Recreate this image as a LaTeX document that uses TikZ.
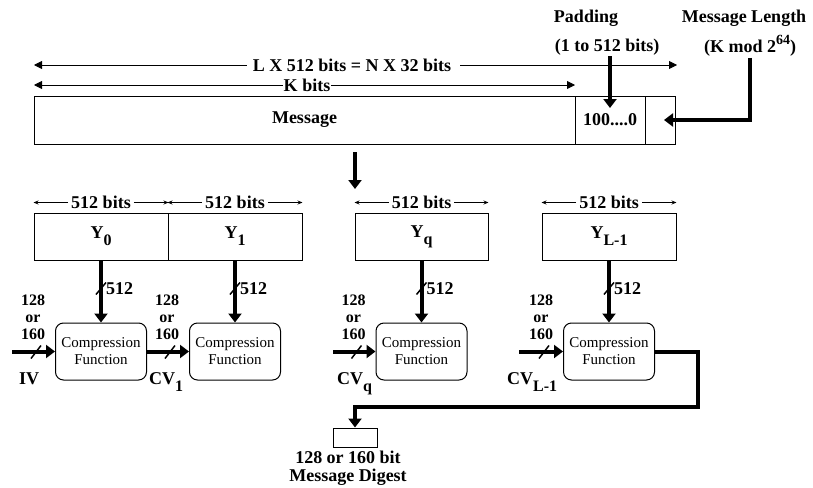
\documentclass[tikz,border=0pt]{standalone}
\usepackage{fontspec}
\setmainfont{Liberation Serif}
\usepackage{tikz}
\usetikzlibrary{arrows.meta,positioning,calc}
\newcommand{\lowtxt}[1]{\raisebox{-0.4em}{\fontsize{16}{16}\selectfont #1}}
\newcommand{\hightxt}[1]{\raisebox{0.45em}{\fontsize{14}{14}\selectfont #1}}

\begin{document}
\begin{tikzpicture}[x=1pt, y=-1pt,
  lbl/.style={font=\fontsize{18}{16}\selectfont\bfseries, inner sep=1pt, align=center},
  stk/.style={font=\fontsize{16}{17}\selectfont\bfseries, inner sep=0pt, align=center},
  blk/.style={draw, line width=1pt, minimum height=47pt, inner sep=0pt, font=\fontsize{18}{18}\selectfont\bfseries},
  cf/.style={draw, line width=1pt, rounded corners=8pt, minimum width=91pt, minimum height=57pt, align=center, inner sep=0pt, font=\fontsize{15}{17}\selectfont},
  arr/.style={-{Triangle[width=13pt,length=9pt]}, line width=4pt},
  dim/.style={-{Triangle[width=8pt,length=8pt]}, line width=0.9pt},
  seg/.style={-{Stealth[width=4pt,length=5pt]}, line width=0.9pt},
  tick/.style={line width=1.5pt}
]
\useasboundingbox (0,0) rectangle (813,487);

% message with padding and length
\node[blk, minimum width=541pt, minimum height=48pt] (msg) at (304.5,120) {Message};
\node[blk, minimum width=70pt, minimum height=48pt] (pad) at (610,120) {100....0};
\node[blk, minimum width=30pt, minimum height=48pt] (len) at (660,120) {};

\node[lbl] (padname) at (586,18) {Padding};
\node[lbl] (padsize) at (607,47) {(1 to 512 bits)};
\node[lbl] (lenname) at (744,18) {Message Length};
\node[lbl] (lensize) at (750,46) {(K mod 2\hightxt{64})};
\coordinate (padtip) at (610,108);
\coordinate (lentip) at (664,120);
\draw[arr] (padsize.south -| padtip) -- (padtip);
\draw[arr] (lensize.south) |- (lentip);

% overall lengths
\node[lbl] (ltot) at (352,65) {L X 512 bits = N X 32 bits};
\coordinate (ltotL) at (34,65);
\coordinate (ltotR) at (677,65);
\draw[dim, shorten <=5pt] (ltot) -- (ltotL);
\draw[dim, shorten <=8pt] (ltot) -- (ltotR);
\node[lbl] (kbits) at (307,85) {K bits};
\coordinate (kbitsL) at (34,85);
\coordinate (kbitsR) at (575,85);
\draw[dim] (kbits) -- (kbitsL);
\draw[dim] (kbits) -- (kbitsR);

\coordinate (cutA) at (355,152);
\coordinate (cutB) at (355,189);
\draw[arr] (cutA) -- (cutB);

% 512-bit blocks
\node[blk, minimum width=134pt] (y0) at (101,236.5) {Y\lowtxt{0}};
\node[blk, minimum width=134pt, right=-1pt of y0] (y1) {Y\lowtxt{1}};
\node[blk, minimum width=133pt] (yq) at (421.5,236.5) {Y\lowtxt{q}};
\node[blk, minimum width=134pt] (yl) at (609,236.5) {Y\lowtxt{L-1}};

\foreach \b/\c in {y0/cf0, y1/cf1, yq/cfq, yl/cfl} {
  \node[lbl] (w\b) at ([yshift=10pt]\b.north) {512 bits};
  \draw[seg, shorten <=2pt] (w\b) -- (w\b -| \b.west);
  \draw[seg, shorten <=2pt] (w\b) -- (w\b -| \b.east);
  \node[cf, below=62pt of \b] (\c) {Compression\\Function};
  \draw[arr] (\b) -- (\c);
  \draw[tick] ($(\b.south)+(-5,34)$) -- ++(10,-12);
  \node[lbl, anchor=west] (n\b) at ($(\b.south)+(4,28)$) {512};
}

% chaining inputs
\coordinate (in0) at (12,351.5);
\coordinate (inq) at (333,351.5);
\coordinate (inl) at (519,351.5);
\foreach \c/\s/\cv/\cvx in {cf0/in0/IV/18, cf1/cf0/CV\lowtxt{1}/148, cfq/inq/CV\lowtxt{q}/336, cfl/inl/CV\lowtxt{L-1}/506} {
  \draw[arr] (\s) -- (\c);
  \draw[tick] ($(\c.west)+(-24,7)$) -- ++(10,-13);
  \node[stk] (b\c) at ($(\c.west)+(-22,-34)$) {128\\or\\160};
  \node[lbl, anchor=base west] (v\c) at (\cvx,384) {\cv};
}

% digest
\node[draw, line width=1pt, minimum width=44pt, minimum height=19pt, inner sep=0pt] (dig) at (355,437.5) {};
\coordinate (outturn) at (698,407);
\draw[arr] (cfl) -| (outturn) -| (dig);
\node[lbl, font=\fontsize{18}{18}\selectfont\bfseries] (digtxt) at (348,468) {128 or 160 bit\\Message Digest};
\end{tikzpicture}
\end{document}
